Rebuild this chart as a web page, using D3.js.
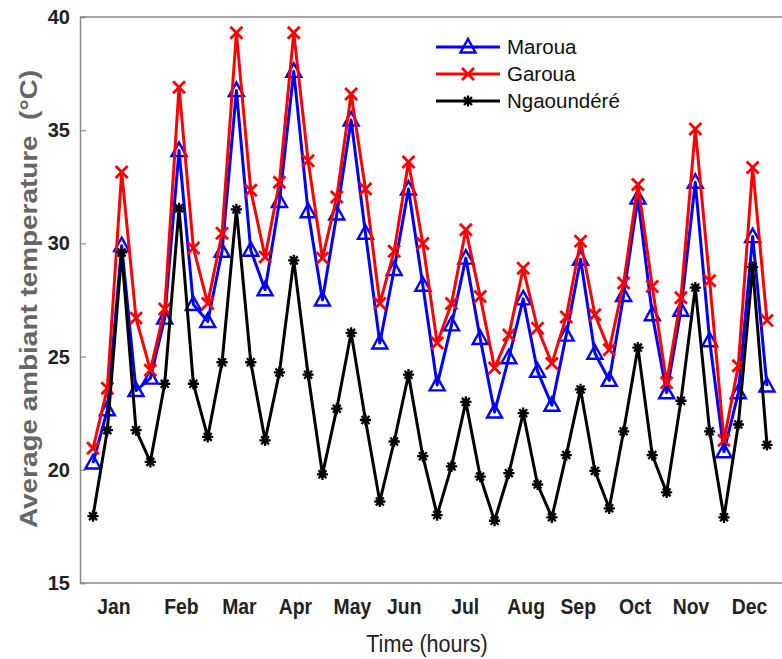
<!DOCTYPE html>
<html>
<head>
<meta charset="utf-8">
<script src="https://cdn.jsdelivr.net/npm/d3@7"></script>
<style>
  html, body { margin: 0; padding: 0; background: #fff; }
  svg { display: block; }
</style>
</head>
<body>
<div id="chart"></div>
<script>
// ---- data ----
const months = ["Jan","Feb","Mar","Apr","May","Jun","Jul","Aug","Sep","Oct","Nov","Dec"];
const monthTickPos = [1.43, 6.13, 10.17, 14.08, 18.05, 21.67, 25.92, 30.17, 33.8, 37.77, 41.67, 45.75];
const yTicks = [15, 20, 25, 30, 35, 40];
const seriesNames = ["Maroua", "Garoua", "Ngaoundéré"];
const maroua = [20.3,22.65,29.9,23.5, 24.05,26.7,34.1,27.3, 26.55,29.65,36.75,29.7, 27.95,31.85,37.6,31.4,
  27.5,31.3,35.45,30.45, 25.6,28.85,32.4,28.15, 23.75,26.4,29.35,25.8, 22.55,24.95,27.55,24.35,
  22.85,25.95,29.3,25.15, 23.95,27.7,32.0,26.85, 23.4,27.05,32.7,25.7, 20.8,23.4,30.3,23.7];
const garoua = [20.95,23.6,33.15,26.7, 24.4,27.1,36.9,29.8, 27.35,30.45,39.3,32.35, 29.4,32.7,39.3,33.65,
  29.35,32.05,36.6,32.4, 27.35,29.65,33.6,30.0, 25.6,27.35,30.6,27.65, 24.5,25.95,28.9,26.25,
  24.7,26.75,30.1,26.85, 25.3,28.25,32.6,28.1, 23.85,27.6,35.05,28.35, 21.3,24.6,33.35,26.6];
const ngaoundere = [17.95,21.75,29.6,21.75, 20.35,23.8,31.55,23.8, 21.45,24.75,31.5,24.75, 21.3,24.3,29.25,24.2,
  19.8,22.7,26.05,22.2, 18.6,21.25,24.2,20.6, 18.0,20.15,23.0,19.7, 17.75,19.85,22.5,19.35,
  17.9,20.65,23.55,19.95, 18.3,21.7,25.4,20.65, 19.0,23.05,28.05,21.7, 17.9,22.0,28.95,21.1];

// ---- layout ----
const W = 782, H = 659;
const svg = d3.select("#chart").append("svg").attr("width", W).attr("height", H);

const x = d3.scaleLinear().domain([0, 47]).range([93, 767]);
const y = d3.scaleLinear().domain([15, 40]).range([583, 17]);
const axisLeftX = 80, axisRightX = 782;

const series = [
  { name: seriesNames[0], values: maroua, color: "#0000ff", marker: "tri" },
  { name: seriesNames[1], values: garoua, color: "#ff0000", marker: "x" },
  { name: seriesNames[2], values: ngaoundere, color: "#000000", marker: "star" }
];

// frame lines
const axisColor = "#8a8a8a";
svg.append("line").attr("x1", axisLeftX).attr("x2", axisRightX).attr("y1", y(40)).attr("y2", y(40))
  .attr("stroke", axisColor).attr("stroke-width", 1.5);
svg.append("line").attr("x1", axisLeftX).attr("x2", axisRightX).attr("y1", y(15)).attr("y2", y(15))
  .attr("stroke", axisColor).attr("stroke-width", 1.5);

// y axis
const yAxis = d3.axisLeft(y).tickValues(yTicks).tickSize(-6).tickPadding(10).tickFormat(d3.format("d"));
const gy = svg.append("g").attr("transform", `translate(${axisLeftX},0)`).call(yAxis);
gy.select(".domain").attr("stroke", axisColor).attr("stroke-width", 1.5);
gy.selectAll(".tick line").attr("stroke", axisColor).attr("stroke-width", 1.2);
gy.selectAll(".tick text").attr("font-family", "Arial, 'Liberation Sans', sans-serif")
  .attr("font-size", 20).attr("font-weight", "bold").attr("fill", "#222");

// x axis (labels only), condensed look via horizontal scaling
const xAxis = d3.axisBottom(x).tickValues(monthTickPos).tickSize(0).tickPadding(0)
  .tickFormat((d, i) => months[i]);
const gx = svg.append("g").attr("transform", `translate(0,${y(15)})`).call(xAxis);
gx.select(".domain").remove();
gx.selectAll(".tick text")
  .attr("dy", null).attr("y", null)
  .attr("transform", "translate(0,31) scale(0.88,1)")
  .attr("font-family", "Arial, 'Liberation Sans', sans-serif")
  .attr("font-size", 22).attr("font-weight", "bold").attr("fill", "#222");

// axis titles
svg.append("text").attr("transform", "translate(427,652) scale(0.9,1)").attr("text-anchor", "middle")
  .attr("font-family", "Arial, 'Liberation Sans', sans-serif")
  .attr("font-size", 24).attr("fill", "#222").text("Time (hours)");
svg.append("text")
  .attr("transform", "translate(37,299) rotate(-90)")
  .attr("text-anchor", "middle")
  .attr("font-family", "Arial, 'Liberation Sans', sans-serif")
  .attr("font-size", 23).attr("font-weight", "bold").attr("fill", "#666")
  .style("white-space", "pre")
  .attr("textLength", 458).attr("lengthAdjust", "spacingAndGlyphs")
  .text("Average ambiant temperature  (°C)");

// markers
function drawMarker(g, type, color) {
  if (type === "tri") {
    g.append("path").attr("d", "M0,-8 L7.5,5.5 L-7.5,5.5 Z")
      .attr("fill", "none").attr("stroke", color).attr("stroke-width", 2.4);
  } else if (type === "x") {
    g.append("path").attr("d", "M-5,-5 L5,5 M-5,5 L5,-5")
      .attr("stroke", color).attr("stroke-width", 2.8).attr("stroke-linecap", "square");
  } else {
    const r = 5.6;
    let d = "";
    for (let k = 0; k < 4; k++) {
      const a = k * Math.PI / 4;
      d += `M${(-r*Math.cos(a)).toFixed(2)},${(-r*Math.sin(a)).toFixed(2)} L${(r*Math.cos(a)).toFixed(2)},${(r*Math.sin(a)).toFixed(2)} `;
    }
    g.append("circle").attr("r", 3.3).attr("fill", color);
    g.append("path").attr("d", d).attr("stroke", color).attr("stroke-width", 2.3);
  }
}

const line = d3.line().x((d, i) => x(i)).y(d => y(d));
series.forEach(s => {
  const g = svg.append("g");
  g.append("path").datum(s.values).attr("d", line)
    .attr("fill", "none").attr("stroke", s.color).attr("stroke-width", 3).attr("stroke-linejoin", "round");
  g.selectAll("g.m").data(s.values).join("g").attr("class", "m")
    .attr("transform", (d, i) => `translate(${x(i)},${y(d)})`)
    .each(function() { drawMarker(d3.select(this), s.marker, s.color); });
});

// legend
const legend = svg.append("g");
series.forEach((s, i) => {
  const ly = 47 + i * 27;
  const g = legend.append("g");
  g.append("line").attr("x1", 436).attr("x2", 500).attr("y1", ly).attr("y2", ly)
    .attr("stroke", s.color).attr("stroke-width", 3);
  const mg = g.append("g").attr("transform", `translate(468,${ly})`);
  drawMarker(mg, s.marker, s.color);
  g.append("text").attr("x", 507).attr("y", ly + 7)
    .attr("font-family", "Arial, 'Liberation Sans', sans-serif").attr("font-size", 20.5)
    .attr("fill", "#111").text(s.name);
});
</script>
</body>
</html>
